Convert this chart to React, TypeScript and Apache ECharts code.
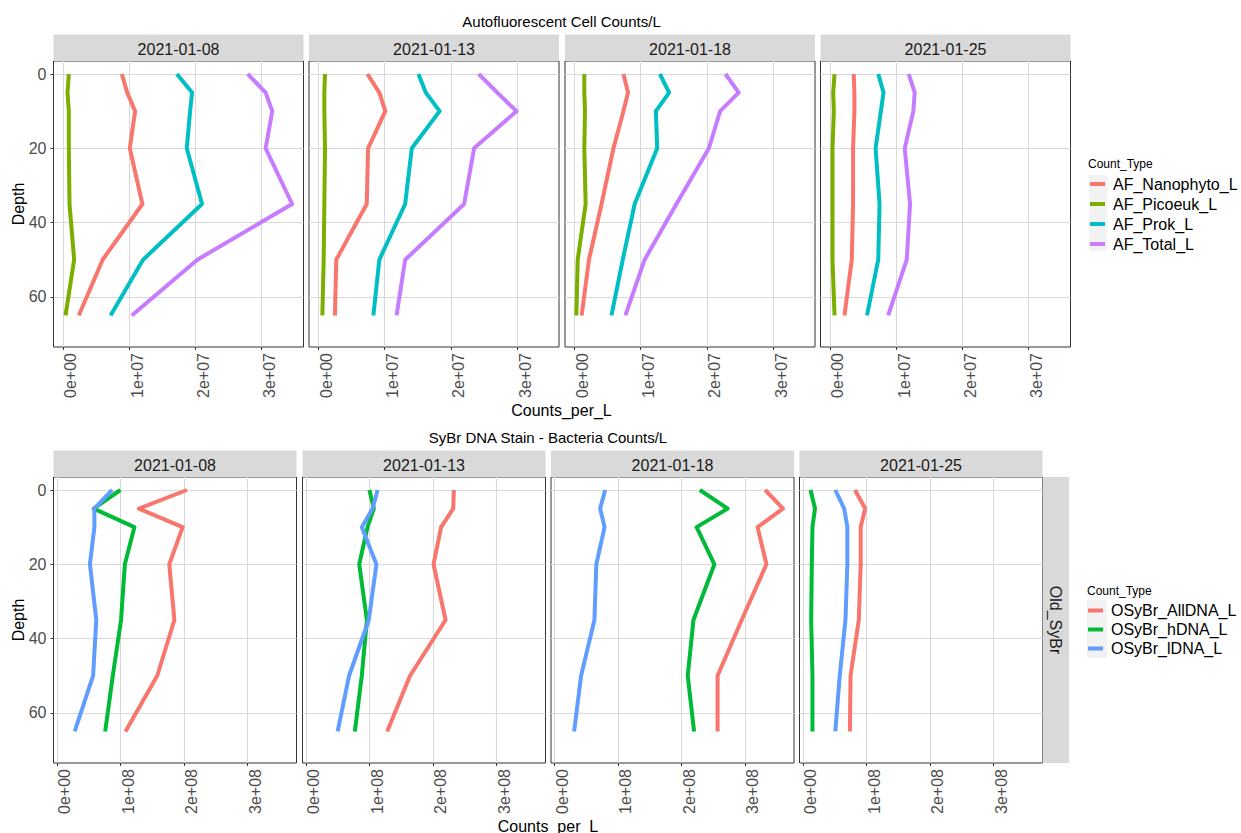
import React, { useEffect, useRef } from "react";
import * as echarts from "echarts";

const depths = [0, 5, 10, 20, 35, 50, 65];
const dates = ["2021-01-08", "2021-01-13", "2021-01-18", "2021-01-25"];

const afTypes = ["AF_Nanophyto_L", "AF_Picoeuk_L", "AF_Prok_L", "AF_Total_L"];
const afColors = ["#F8766D", "#7CAE00", "#00BFC4", "#C77CFF"];
// units of 1e7 cells per L, one row per date, one value per depth
const afNanophyto = [
  [0.89, 0.97, 1.09, 1.01, 1.2, 0.6, 0.24],
  [0.74, 0.92, 1.01, 0.75, 0.73, 0.27, 0.25],
  [0.74, 0.81, 0.74, 0.59, 0.41, 0.22, 0.11],
  [0.36, 0.37, 0.37, 0.35, 0.35, 0.33, 0.22],
];
const afPicoeuk = [
  [0.09, 0.07, 0.09, 0.09, 0.1, 0.17, 0.04],
  [0.1, 0.09, 0.09, 0.1, 0.09, 0.08, 0.06],
  [0.15, 0.15, 0.16, 0.15, 0.17, 0.05, 0.03],
  [0.07, 0.05, 0.06, 0.04, 0.04, 0.04, 0.07],
];
const afProk = [
  [1.72, 1.95, 1.92, 1.87, 2.1, 1.21, 0.72],
  [1.51, 1.62, 1.83, 1.41, 1.31, 0.92, 0.83],
  [1.29, 1.43, 1.23, 1.25, 0.91, 0.73, 0.56],
  [0.73, 0.81, 0.77, 0.69, 0.75, 0.73, 0.56],
];
const afTotal = [
  [2.79, 3.06, 3.16, 3.06, 3.46, 2.03, 1.04],
  [2.42, 2.7, 2.99, 2.35, 2.2, 1.31, 1.18],
  [2.28, 2.48, 2.2, 2.03, 1.54, 1.06, 0.77],
  [1.19, 1.28, 1.26, 1.13, 1.21, 1.16, 0.88],
];
const afScale = 1e7;

const sybrTypes = ["OSyBr_AllDNA_L", "OSyBr_hDNA_L", "OSyBr_lDNA_L"];
const sybrColors = ["#F8766D", "#00BA38", "#619CFF"];
// units of 1e8 cells per L
const sybrAll = [
  [2.05, 1.29, 1.98, 1.77, 1.85, 1.58, 1.08],
  [2.33, 2.32, 2.13, 2.01, 2.2, 1.64, 1.28],
  [3.32, 3.6, 3.2, 3.34, 2.95, 2.57, 2.57],
  [0.82, 0.98, 0.91, 0.91, 0.88, 0.75, 0.74],
];
const sybrH = [
  [1.0, 0.58, 1.22, 1.07, 1.01, 0.88, 0.76],
  [1.0, 1.07, 0.97, 0.84, 0.96, 0.88, 0.77],
  [2.29, 2.73, 2.24, 2.52, 2.19, 2.1, 2.2],
  [0.12, 0.19, 0.15, 0.14, 0.13, 0.15, 0.15],
];
const sybrL = [
  [0.87, 0.59, 0.59, 0.52, 0.62, 0.57, 0.28],
  [1.13, 1.05, 0.88, 1.11, 0.99, 0.68, 0.5],
  [0.8, 0.72, 0.79, 0.66, 0.63, 0.42, 0.31],
  [0.51, 0.65, 0.7, 0.7, 0.67, 0.58, 0.51],
];
const sybrScale = 1e8;

const afTicks = [0, 1e7, 2e7, 3e7];
const sybrTicks = [0, 1e8, 2e8, 3e8];
const depthTicks = [0, 20, 40, 60];
const depthLimits = [0, 70];

const FONT = "'Liberation Sans', Arial, Helvetica, sans-serif";

function sci(v: number): string {
  if (v === 0) return "0e+00";
  const e = Math.floor(Math.log10(Math.abs(v)) + 1e-9);
  const m = Math.round(v / Math.pow(10, e));
  return `${m}e${e < 0 ? "-" : "+"}${String(Math.abs(e)).padStart(2, "0")}`;
}

function expand(vals: number[][][], scale: number) {
  const flat = vals.flat(2).map((v) => v * scale);
  const lo = Math.min(...flat);
  const hi = Math.max(...flat);
  const pad = (hi - lo) * 0.05;
  return [lo - pad, hi + pad];
}

function buildOption() {
  const grids: any[] = [];
  const xAxes: any[] = [];
  const yAxes: any[] = [];
  const series: any[] = [];
  const graphics: any[] = [];

  const dPad = (depthLimits[1] - depthLimits[0]) * 0.05;
  const yMin = depthLimits[0] - dPad;
  const yMax = depthLimits[1] + dPad;

  const sections = [
    {
      lefts: [53.5, 309, 565, 820.5],
      width: 250,
      top: 61,
      height: 286,
      types: afTypes,
      colors: afColors,
      values: [afNanophyto, afPicoeuk, afProk, afTotal],
      scale: afScale,
      ticks: afTicks,
    },
    {
      lefts: [53.5, 302.5, 551, 799.5],
      width: 243,
      top: 477,
      height: 286,
      types: sybrTypes,
      colors: sybrColors,
      values: [sybrAll, sybrH, sybrL],
      scale: sybrScale,
      ticks: sybrTicks,
    },
  ];

  sections.forEach((sec) => {
    const [xMin, xMax] = expand(sec.values, sec.scale);
    sec.lefts.forEach((left, di) => {
      const gi = grids.length;
      grids.push({
        left,
        top: sec.top,
        width: sec.width,
        height: sec.height,
        show: true,
        backgroundColor: "#FFFFFF",
        borderColor: "#333333",
        borderWidth: 1,
        containLabel: false,
        outerBoundsMode: "none",
      });
      xAxes.push({
        type: "value",
        gridIndex: gi,
        position: "bottom",
        min: xMin,
        max: xMax,
        axisLine: { show: false, onZero: false },
        axisTick: {
          show: true,
          length: 3,
          customValues: sec.ticks,
          lineStyle: { color: "#333333", width: 1 },
        },
        axisLabel: {
          show: true,
          rotate: 90,
          margin: 6,
          fontSize: 16,
          fontFamily: FONT,
          color: "#4D4D4D",
          customValues: sec.ticks,
          formatter: (v: number) => sci(v),
          verticalAlign: "top",
        },
        splitLine: { show: true, lineStyle: { color: "#D9D9D9", width: 1.1 } },
      });
      yAxes.push({
        type: "value",
        gridIndex: gi,
        position: "left",
        inverse: true,
        min: yMin,
        max: yMax,
        axisLine: { show: false, onZero: false },
        axisTick: {
          show: di === 0,
          length: 3,
          customValues: depthTicks,
          lineStyle: { color: "#333333", width: 1 },
        },
        axisLabel: {
          show: di === 0,
          margin: 7,
          fontSize: 16,
          fontFamily: FONT,
          color: "#4D4D4D",
          customValues: depthTicks,
        },
        splitLine: { show: true, lineStyle: { color: "#D9D9D9", width: 1.1 } },
      });
      sec.types.forEach((name, ti) => {
        series.push({
          type: "line",
          name,
          xAxisIndex: gi,
          yAxisIndex: gi,
          data: depths.map((d, k) => [sec.values[ti][di][k] * sec.scale, d]),
          symbol: "none",
          showSymbol: false,
          silent: true,
          lineStyle: { width: 4, color: sec.colors[ti], join: "round", cap: "butt" },
          itemStyle: { color: sec.colors[ti] },
          z: 3,
        });
      });
      // strip
      const stripTop = sec.top - 26.5;
      graphics.push({
        type: "rect",
        shape: { x: left, y: stripTop, width: sec.width, height: 26.5 },
        style: { fill: "#D9D9D9" },
        silent: true,
      });
      graphics.push({
        type: "text",
        x: left + sec.width / 2,
        y: stripTop + 15,
        style: {
          text: dates[di],
          fill: "#1A1A1A",
          font: `16px ${FONT}`,
          align: "center",
          verticalAlign: "middle",
        },
        silent: true,
      });
    });
  });

  // titles
  graphics.push({
    type: "text",
    x: 561.5,
    y: 21,
    style: { text: "Autofluorescent Cell Counts/L", fill: "#000", font: `15px ${FONT}`, align: "center", verticalAlign: "middle" },
  });
  graphics.push({
    type: "text",
    x: 548,
    y: 437,
    style: { text: "SyBr DNA Stain - Bacteria Counts/L", fill: "#000", font: `15px ${FONT}`, align: "center", verticalAlign: "middle" },
  });
  // axis titles
  [
    [204, 410, 561.5],
    [620, 826, 548],
  ].forEach(([yc, xt, xc]) => {
    graphics.push({
      type: "text",
      x: 18,
      y: yc,
      rotation: Math.PI / 2,
      style: { text: "Depth", fill: "#000", font: `16px ${FONT}`, align: "center", verticalAlign: "middle" },
    });
    graphics.push({
      type: "text",
      x: xc,
      y: xt,
      style: { text: "Counts_per_L", fill: "#000", font: `16px ${FONT}`, align: "center", verticalAlign: "middle" },
    });
  });
  // right strip
  graphics.push({
    type: "rect",
    shape: { x: 1042.5, y: 477, width: 26.5, height: 286 },
    style: { fill: "#D9D9D9" },
  });
  graphics.push({
    type: "text",
    x: 1055.5,
    y: 620,
    rotation: -Math.PI / 2,
    style: { text: "Old_SyBr", fill: "#1A1A1A", font: `16px ${FONT}`, align: "center", verticalAlign: "middle" },
  });
  // legend titles and key backgrounds
  graphics.push({
    type: "text",
    x: 1088,
    y: 164,
    style: { text: "Count_Type", fill: "#000", font: `12px ${FONT}`, align: "left", verticalAlign: "middle" },
  });
  graphics.push({
    type: "rect",
    z: -1,
    shape: { x: 1089, y: 175, width: 18, height: 76 },
    style: { fill: "#F2F2F2" },
  });
  graphics.push({
    type: "text",
    x: 1087,
    y: 591,
    style: { text: "Count_Type", fill: "#000", font: `12px ${FONT}`, align: "left", verticalAlign: "middle" },
  });
  graphics.push({
    type: "rect",
    z: -1,
    shape: { x: 1087, y: 600, width: 20, height: 58 },
    style: { fill: "#F2F2F2" },
  });

  const legendBase = {
    orient: "vertical",
    itemWidth: 15,
    itemHeight: 4,
    icon: "rect",
    itemGap: 0,
    selectedMode: false,
    padding: 0,
  };

  return {
    animation: false,
    backgroundColor: "#FFFFFF",
    textStyle: { fontFamily: FONT },
    grid: grids,
    xAxis: xAxes,
    yAxis: yAxes,
    series,
    legend: [
      {
        ...legendBase,
        data: afTypes,
        left: 1090,
        top: 174,
        textStyle: { fontSize: 16, color: "#000", fontFamily: FONT, lineHeight: 20, padding: [0, 0, 0, 3] },
      },
      {
        ...legendBase,
        data: sybrTypes,
        left: 1088,
        top: 601,
        textStyle: { fontSize: 16, color: "#000", fontFamily: FONT, lineHeight: 19, padding: [0, 0, 0, 3] },
      },
    ],
    graphic: { elements: graphics },
  };
}

export default function App() {
  const ref = useRef<HTMLDivElement>(null);
  useEffect(() => {
    document.body.style.margin = "0";
    if (!ref.current) return;
    const chart = echarts.init(ref.current, undefined, { renderer: "svg" });
    chart.setOption(buildOption() as any);
    return () => chart.dispose();
  }, []);
  return (
    <div
      ref={ref}
      style={{ position: "fixed", left: 0, top: 0, width: 1241, height: 833, background: "#fff" }}
    />
  );
}
